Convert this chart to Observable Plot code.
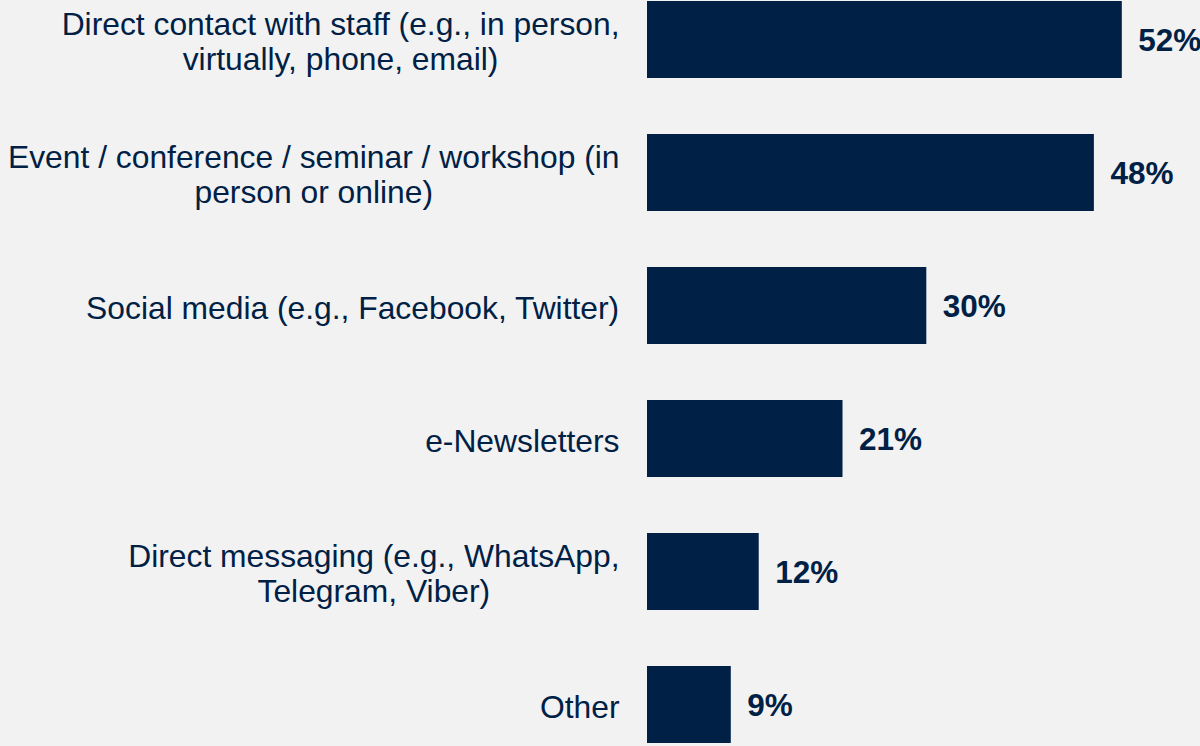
<!DOCTYPE html>
<html>
<head>
<meta charset="utf-8">
<script src="https://cdn.jsdelivr.net/npm/d3@7"></script>
<script src="https://cdn.jsdelivr.net/npm/@observablehq/plot@0.6"></script>
<style>
  html, body { margin: 0; padding: 0; background: #f2f2f2; }
  #chart { width: 1200px; height: 746px; overflow: hidden; }
</style>
</head>
<body>
<div id="chart"></div>
<script>
const categories = [
  "Direct contact with staff (e.g., in person,\nvirtually, phone, email)",
  "Event / conference / seminar / workshop (in\nperson or online)",
  "Social media (e.g., Facebook, Twitter)",
  "e-Newsletters",
  "Direct messaging (e.g., WhatsApp,\nTelegram, Viber)",
  "Other"
];
const values = [51, 48, 30, 21, 12, 9];
const valueLabels = ["52%", "48%", "30%", "21%", "12%", "9%"];

const data = categories.map((c, i) => ({cat: c, value: values[i], label: valueLabels[i]}));

const navy = "#002145";
const catFont = 31.8;
const valFont = 31.5;
const fam = "'Liberation Sans', Arial, sans-serif";

const ctx = document.createElement("canvas").getContext("2d");
ctx.font = `${catFont}px ${fam}`;
function blockWidth(s) {
  return Math.max(...s.split("\n").map(l => ctx.measureText(l).width));
}

const catMarks = data.map(d => Plot.text([d], {
  x: () => 0,
  y: "cat",
  text: "cat",
  textAnchor: "middle",
  lineAnchor: "middle",
  lineHeight: 1.13,
  fontSize: catFont,
  fill: navy,
  dx: -(28 + blockWidth(d.cat) / 2),
  dy: 1
}));

const chart = Plot.plot({
  width: 1200,
  height: 746,
  marginLeft: 0,
  marginRight: 0,
  marginTop: 0,
  marginBottom: 0,
  style: {background: "#f2f2f2", fontFamily: fam, overflow: "visible"},
  x: {domain: [0, 100], range: [647, 1578], axis: null},
  y: {domain: categories, range: [-0.5, 744.4], paddingInner: 0.42, paddingOuter: 0, axis: null},
  marks: [
    Plot.barX(data, {x: "value", y: "cat", fill: navy}),
    ...catMarks,
    Plot.text(data, {
      x: "value", y: "cat", text: "label",
      textAnchor: "start", lineAnchor: "middle",
      dx: 16, dy: 1,
      fontSize: valFont, fontWeight: "bold", fill: navy
    })
  ]
});
document.getElementById("chart").appendChild(chart);
</script>
</body>
</html>
